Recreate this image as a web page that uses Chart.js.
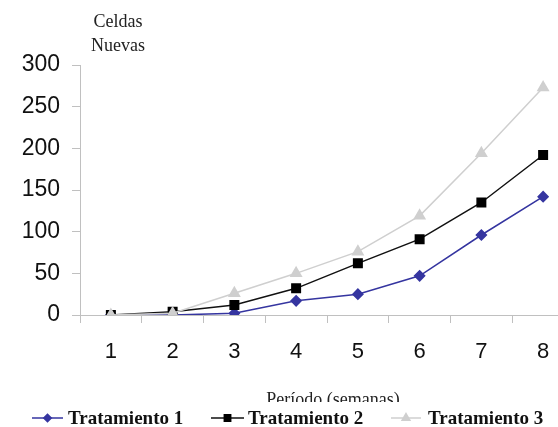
<!DOCTYPE html>
<html>
<head>
<meta charset="utf-8">
<script src="https://cdn.jsdelivr.net/npm/chart.js@4"></script>
<style>
  html, body { margin: 0; padding: 0; background: #fff; overflow: hidden; }
  #wrap { width: 558px; height: 427px; overflow: hidden; position: relative; }
  canvas { display: block; }
</style>
</head>
<body>
<div id="wrap"><canvas id="c" width="600" height="427"></canvas></div>
<script>
// Weekly periods and new cells per treatment
const periods = ['1', '2', '3', '4', '5', '6', '7', '8'];
const tratamiento1 = [0, 0, 2, 17, 25, 47, 96, 142];
const tratamiento2 = [0, 4, 12, 32, 62, 91, 135, 192];
const tratamiento3 = [0, 2, 26, 50, 76, 119, 194, 273];
const seriesNames = ['Tratamiento 1', 'Tratamiento 2', 'Tratamiento 3'];
const yTitle = ['Celdas', 'Nuevas'];
const xTitle = 'Período (semanas)';

const axisGray = '#c0c0c0';
const serif = '"Liberation Serif", "Times New Roman", serif';

// Axis titles and a line+marker legend drawn onto the canvas
const decorations = {
  id: 'decorations',
  afterDraw(chart) {
    const ctx = chart.ctx;
    ctx.save();
    ctx.fillStyle = '#222';
    ctx.textAlign = 'center';
    ctx.textBaseline = 'alphabetic';
    ctx.font = '18px ' + serif;
    ctx.fillText(yTitle[0], 118, 27);
    ctx.fillText(yTitle[1], 118, 51);

    ctx.font = '18px ' + serif;
    ctx.fillText(xTitle, 333, 405);
    // legend band overlaps the lower part of the axis title
    ctx.fillStyle = '#fff';
    ctx.fillRect(0, 402, chart.width, chart.height - 402);

    const items = [
      { x: 32, w: 31, textX: 68 },
      { x: 211, w: 33, textX: 248 },
      { x: 391, w: 30, textX: 428 }
    ];
    ctx.font = 'bold 19px ' + serif;
    ctx.textAlign = 'left';
    ctx.textBaseline = 'middle';
    const ly = 418;
    chart.data.datasets.forEach((ds, i) => {
      const it = items[i];
      ctx.strokeStyle = ds.borderColor;
      ctx.lineWidth = 1.5;
      ctx.beginPath();
      ctx.moveTo(it.x, ly);
      ctx.lineTo(it.x + it.w, ly);
      ctx.stroke();
      ctx.fillStyle = ds.pointBackgroundColor;
      ctx.strokeStyle = ds.pointBorderColor;
      Chart.helpers.drawPoint(ctx, {
        pointStyle: ds.pointStyle,
        radius: ds.pointRadius * 0.75,
        borderWidth: 1
      }, it.x + it.w / 2, ly);
      ctx.fillStyle = '#111';
      ctx.fillText(seriesNames[i], it.textX, ly + 1);
    });
    ctx.restore();
  }
};

new Chart(document.getElementById('c'), {
  type: 'line',
  data: {
    labels: periods,
    datasets: [
      {
        label: seriesNames[0],
        data: tratamiento1,
        borderColor: '#3535a0',
        backgroundColor: '#3535a0',
        pointBackgroundColor: '#3535a0',
        pointBorderColor: '#3535a0',
        pointStyle: 'rectRot',
        pointRadius: 5,
        borderWidth: 1.5,
        order: 2
      },
      {
        label: seriesNames[1],
        data: tratamiento2,
        borderColor: '#111111',
        backgroundColor: '#000000',
        pointBackgroundColor: '#000000',
        pointBorderColor: '#000000',
        pointStyle: 'rect',
        pointRadius: 6,
        borderWidth: 1.5,
        order: 1
      },
      {
        label: seriesNames[2],
        data: tratamiento3,
        borderColor: '#cfcfcf',
        backgroundColor: '#cfcfcf',
        pointBackgroundColor: '#cfcfcf',
        pointBorderColor: '#cfcfcf',
        pointStyle: 'triangle',
        pointRadius: 6,
        borderWidth: 1.5,
        order: 0
      }
    ]
  },
  options: {
    responsive: false,
    animation: false,
    layout: { padding: { left: 0, top: 65, right: 26, bottom: 0 } },
    plugins: {
      legend: { display: false },
      tooltip: { enabled: false },
      title: { display: false }
    },
    scales: {
      x: {
        offset: true,
        afterFit(s) { s.height = 112; },
        grid: {
          offset: true,
          drawOnChartArea: false,
          drawTicks: true,
          tickLength: 8,
          color: axisGray
        },
        border: { color: axisGray, width: 1 },
        ticks: {
          padding: 16,
          color: '#111',
          font: { family: '"Liberation Sans", Arial, sans-serif', size: 22 }
        }
      },
      y: {
        min: 0,
        max: 300,
        afterFit(s) { s.width = 80; },
        grid: {
          drawOnChartArea: false,
          drawTicks: true,
          tickLength: 8,
          color: axisGray
        },
        border: { color: axisGray, width: 1 },
        ticks: {
          stepSize: 50,
          padding: 12,
          color: '#111',
          font: { family: '"Liberation Sans", Arial, sans-serif', size: 23 }
        }
      }
    }
  },
  plugins: [decorations]
});
</script>
</body>
</html>
